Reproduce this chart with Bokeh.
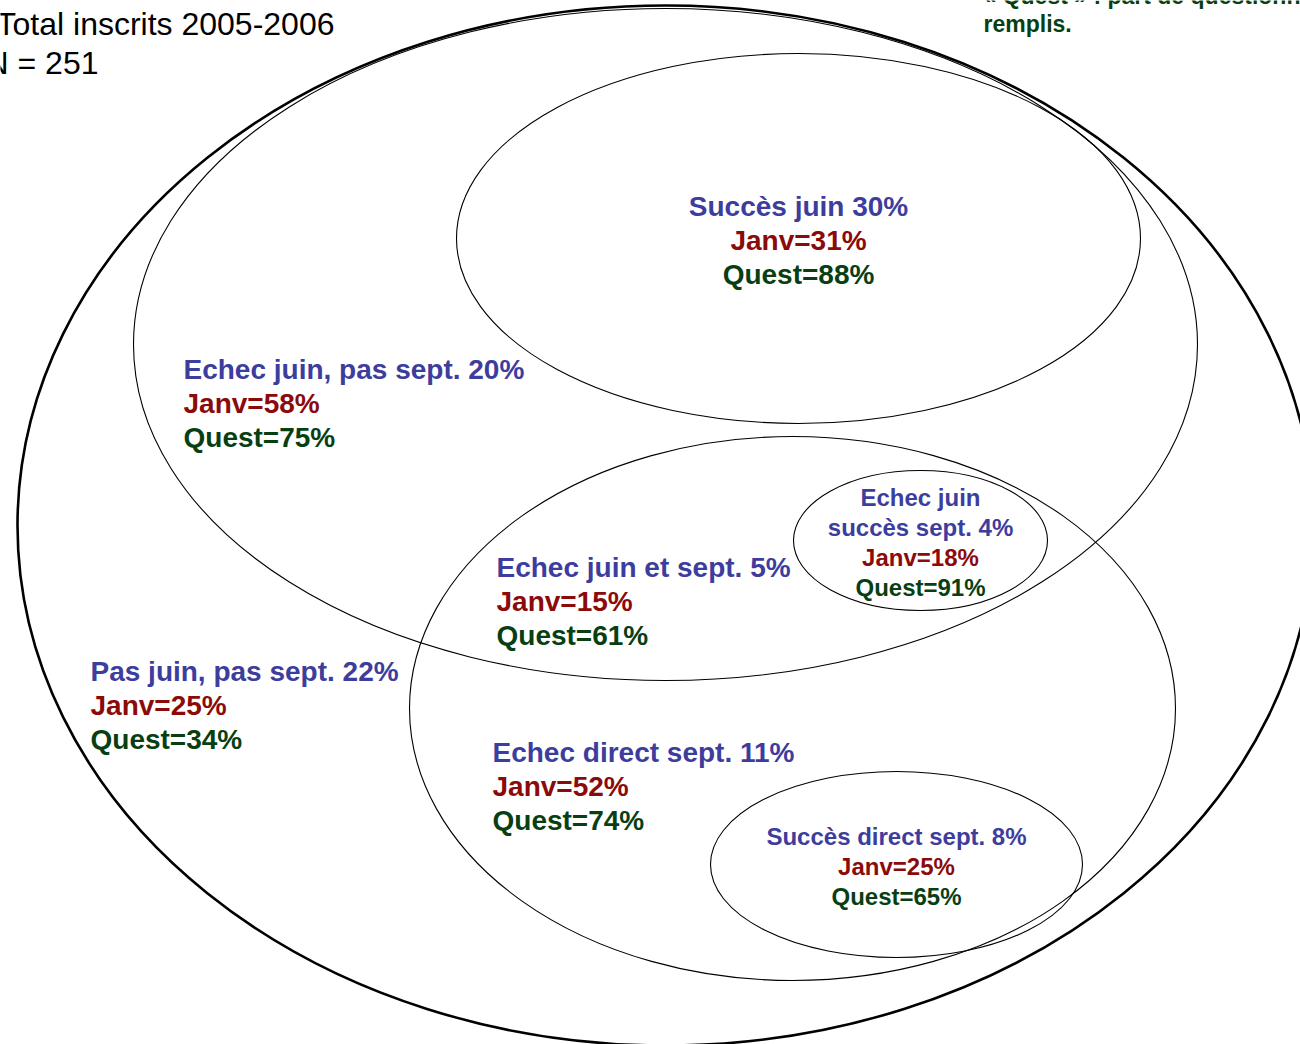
from bokeh.plotting import figure
from bokeh.models import Range1d
from bokeh.core.properties import value
from bokeh.embed import file_html
from bokeh.resources import INLINE

# ---- data ----
group_names = ["Succès juin", "Echec juin, pas sept.", "Echec juin et sept.",
               "Echec juin\nsuccès sept.", "Pas juin, pas sept.",
               "Echec direct sept.", "Succès direct sept."]
group_pct = [30, 20, 5, 4, 22, 11, 8]
janv_pct = [31, 58, 15, 18, 25, 52, 25]
quest_pct = [88, 75, 61, 91, 34, 74, 65]
title_lines = ["Total inscrits 2005-2006", "N = 251"]
note_lines = ["« Quest » : part de questionnaires", "remplis."]

# ---- layout (reference pixel space) ----
W, H = 1300, 1044
# ellipses: cx, cy, width, height, line width
ell_cx = [665, 665, 798, 792, 920, 896]
ell_cy = [525, 344, 238, 708, 540, 864]
ell_w = [1296, 1064, 684, 766, 254, 372]
ell_h = [1040, 672, 370, 544, 140, 186]
ell_lw = [2.6, 1.1, 1.1, 1.1, 1.1, 1.1]

# label anchors: x, first line y, align, font size, line spacing
lab_x = [798, 183, 496, 920, 90, 492, 896]
lab_y = [206, 369, 567, 497, 671, 752, 836]
lab_align = ["center", "left", "left", "center", "left", "left", "center"]
lab_size = [28, 28, 28, 24, 28, 28, 24]
lab_step = [34, 34, 34, 30, 34, 34, 30]

BLUE = "#3D3D9E"
RED = "#8B0A0A"
GREEN = "#083F12"
FONT = value("Liberation Sans")

p = figure(width=W, height=H, x_range=Range1d(0, W), y_range=Range1d(H, 0),
           output_backend="svg", toolbar_location=None,
           x_axis_location=None, y_axis_location=None, min_border=0)
p.grid.visible = False
p.outline_line_color = None
p.background_fill_color = "white"
p.border_fill_color = "white"

for cx, cy, w, h, lw in zip(ell_cx, ell_cy, ell_w, ell_h, ell_lw):
    p.ellipse(x=[cx], y=[cy], width=[w], height=[h], fill_color=None,
              line_color="black", line_width=lw)

for i, name in enumerate(group_names):
    parts = name.split("\n")
    parts[-1] = f"{parts[-1]} {group_pct[i]}%"
    lines = [(t, BLUE) for t in parts]
    lines.append((f"Janv={janv_pct[i]}%", RED))
    lines.append((f"Quest={quest_pct[i]}%", GREEN))
    for k, (t, c) in enumerate(lines):
        p.text(x=[lab_x[i]], y=[lab_y[i] + k * lab_step[i]], text=[t],
               text_color=c, text_font=FONT, text_font_style="bold",
               text_font_size=f"{lab_size[i]}px", text_align=lab_align[i],
               text_baseline="middle")

# title (cut at the left edge as in the reference)
title_x = [334, 98]
title_y = [23, 62]
for t, x, y in zip(title_lines, title_x, title_y):
    p.text(x=[x], y=[y], text=[t], text_color="black", text_font=FONT,
           text_font_size="32px", text_align="right", text_baseline="middle")

# note (cut at the top edge)
note_y = [-5, 23]
for t, y in zip(note_lines, note_y):
    p.text(x=[983], y=[y], text=[t], text_color=GREEN, text_font=FONT,
           text_font_style="bold", text_font_size="23px", text_align="left",
           text_baseline="middle")

open("out.html", "w").write(file_html(p, INLINE))
